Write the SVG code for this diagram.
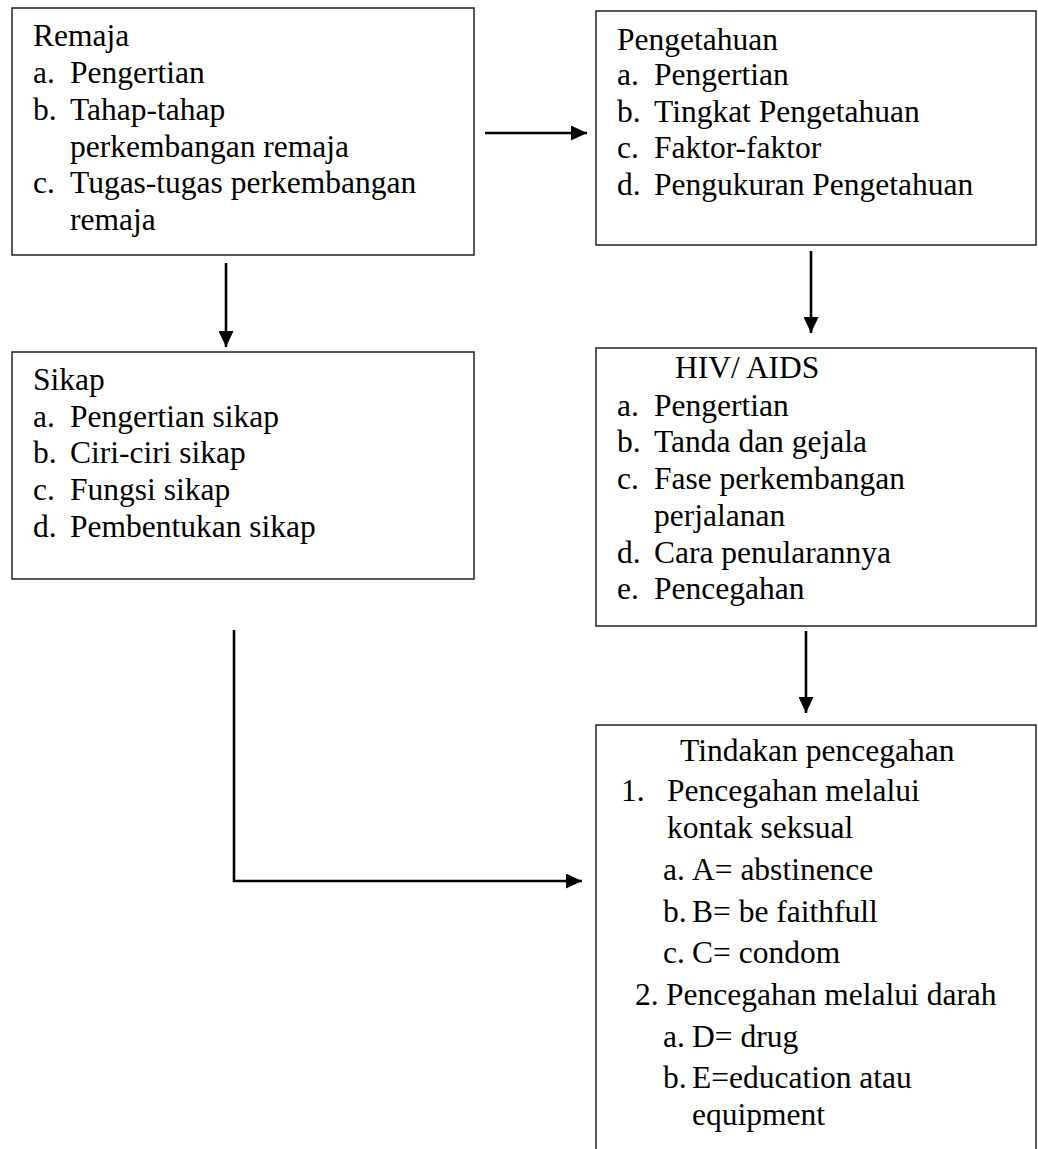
<svg xmlns="http://www.w3.org/2000/svg" width="1038" height="1149" viewBox="0 0 1038 1149">
<style>
.box{fill:#fff;stroke:#222;stroke-width:1.5}
.t{font-family:'Liberation Serif','Times New Roman',Times,serif;font-size:31.5px;fill:#000}
.c{fill:none;stroke:#000;stroke-width:2.6}
</style>
<defs>
<marker id="ah" viewBox="0 0 16 15" refX="16" refY="7.5" markerWidth="16" markerHeight="15" markerUnits="userSpaceOnUse" orient="auto">
<path d="M0,0 L16,7.5 L0,15 Z" fill="#000"/>
</marker>
</defs>
<rect width="1038" height="1149" fill="#fff"/>
<g id="remaja">
<rect class="box" x="12" y="8" width="462" height="247"/>
<text class="t" x="33" y="46">Remaja</text>
<text class="t" x="33" y="83">a.</text><text class="t" x="70" y="83">Pengertian</text>
<text class="t" x="33" y="120">b.</text><text class="t" x="70" y="120">Tahap-tahap</text>
<text class="t" x="70" y="157">perkembangan remaja</text>
<text class="t" x="33" y="193">c.</text><text class="t" x="70" y="193">Tugas-tugas perkembangan</text>
<text class="t" x="70" y="230">remaja</text>
</g>
<g id="pengetahuan">
<rect class="box" x="596" y="11" width="440" height="234"/>
<text class="t" x="617" y="50">Pengetahuan</text>
<text class="t" x="617" y="85">a.</text><text class="t" x="654" y="85">Pengertian</text>
<text class="t" x="617" y="122">b.</text><text class="t" x="654" y="122">Tingkat Pengetahuan</text>
<text class="t" x="617" y="158">c.</text><text class="t" x="654" y="158">Faktor-faktor</text>
<text class="t" x="617" y="195">d.</text><text class="t" x="654" y="195">Pengukuran Pengetahuan</text>
</g>
<g id="sikap">
<rect class="box" x="12" y="352" width="462" height="227"/>
<text class="t" x="33" y="390">Sikap</text>
<text class="t" x="33" y="427">a.</text><text class="t" x="70" y="427">Pengertian sikap</text>
<text class="t" x="33" y="463">b.</text><text class="t" x="70" y="463">Ciri-ciri sikap</text>
<text class="t" x="33" y="500">c.</text><text class="t" x="70" y="500">Fungsi sikap</text>
<text class="t" x="33" y="537">d.</text><text class="t" x="70" y="537">Pembentukan sikap</text>
</g>
<g id="hiv">
<rect class="box" x="596" y="348" width="440" height="278"/>
<text class="t" x="675" y="378">HIV/ AIDS</text>
<text class="t" x="617" y="416">a.</text><text class="t" x="654" y="416">Pengertian</text>
<text class="t" x="617" y="452">b.</text><text class="t" x="654" y="452">Tanda dan gejala</text>
<text class="t" x="617" y="489">c.</text><text class="t" x="654" y="489">Fase perkembangan</text>
<text class="t" x="654" y="526">perjalanan</text>
<text class="t" x="617" y="563">d.</text><text class="t" x="654" y="563">Cara penularannya</text>
<text class="t" x="617" y="599">e.</text><text class="t" x="654" y="599">Pencegahan</text>
</g>
<g id="tindakan">
<rect class="box" x="596" y="725" width="440" height="440"/>
<text class="t" x="680" y="761">Tindakan pencegahan</text>
<text class="t" x="621" y="801">1.</text><text class="t" x="667" y="801">Pencegahan melalui</text>
<text class="t" x="667" y="838">kontak seksual</text>
<text class="t" x="663" y="880">a.</text><text class="t" x="692" y="880">A= abstinence</text>
<text class="t" x="663" y="922">b.</text><text class="t" x="692" y="922">B= be faithfull</text>
<text class="t" x="663" y="963">c.</text><text class="t" x="692" y="963">C= condom</text>
<text class="t" x="635" y="1005">2.</text><text class="t" x="666" y="1005">Pencegahan melalui darah</text>
<text class="t" x="663" y="1047">a.</text><text class="t" x="692" y="1047">D= drug</text>
<text class="t" x="663" y="1088">b.</text><text class="t" x="692" y="1088">E=education atau</text>
<text class="t" x="692" y="1125">equipment</text>
</g>
<g id="connectors">
<line class="c" x1="485" y1="133" x2="587" y2="133" marker-end="url(#ah)"/>
<line class="c" x1="226" y1="263" x2="226" y2="347" marker-end="url(#ah)"/>
<line class="c" x1="811" y1="251" x2="811" y2="333" marker-end="url(#ah)"/>
<line class="c" x1="806" y1="631" x2="806" y2="713" marker-end="url(#ah)"/>
<polyline class="c" points="234,630 234,881 582,881" marker-end="url(#ah)"/>
</g>
</svg>
